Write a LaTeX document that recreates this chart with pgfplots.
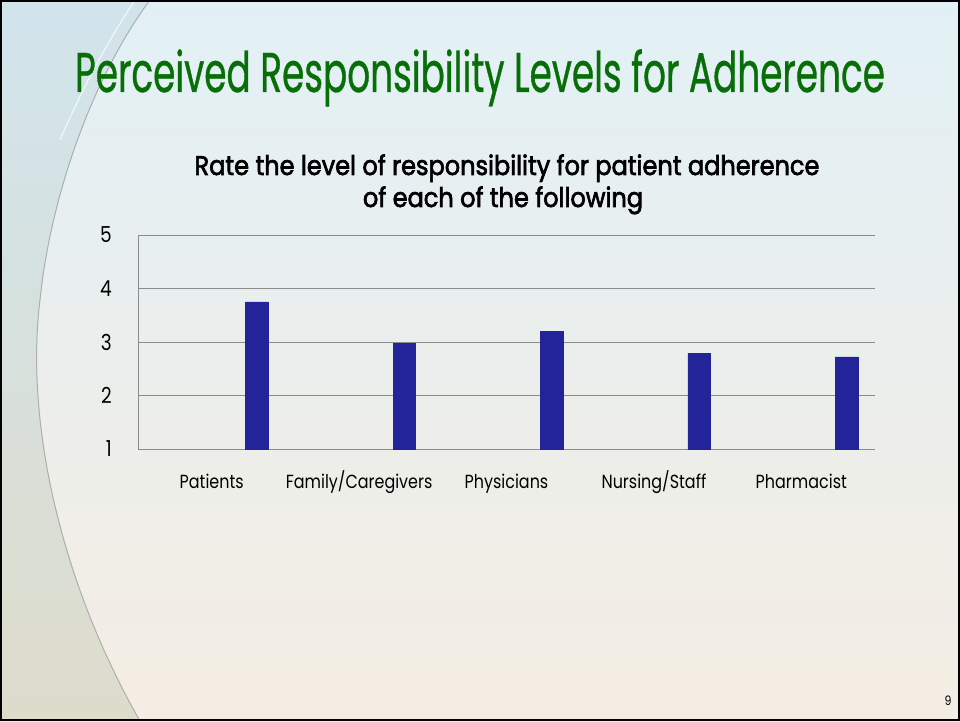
\documentclass[border=0pt]{standalone}
\usepackage{pgfplots}
\pgfplotsset{compat=1.18}
\usepackage{fontspec}
\setmainfont{Poppins}
\newfontfamily\titlefont[FakeStretch=0.64, FakeBold=0.6]{Poppins}
\newfontfamily\subfont[FakeStretch=0.89, FakeBold=2.4]{Poppins}
\newfontfamily\labfont[FakeStretch=0.84]{Poppins}

\definecolor{titlegreen}{RGB}{8,110,8}
\definecolor{barblue}{RGB}{36,36,154}
\definecolor{gridgray}{RGB}{140,140,140}
\definecolor{bgtop}{RGB}{226,240,245}
\definecolor{bgmid}{RGB}{238,243,240}
\definecolor{bgbot}{RGB}{244,237,227}
\definecolor{lefttop}{RGB}{205,226,234}
\definecolor{leftbot}{RGB}{216,216,198}

\begin{document}
\begin{tikzpicture}
\useasboundingbox (0pt,0pt) rectangle (960pt,721pt);
\begin{scope}[x=1pt,y=1pt]
% slide background
\shade[top color=bgtop, middle color=bgmid, bottom color=bgbot] (0,0) rectangle (960,721);
\shade[top color=lefttop, bottom color=leftbot, opacity=0.8] (0,0) -- (140,0) .. controls (60,140) and (25,300) .. (40,421)
  .. controls (50,520) and (90,640) .. (150,721) -- (0,721) -- cycle;
\draw[gridgray!70, line width=1pt] (140,0) .. controls (60,140) and (25,300) .. (40,421)
  .. controls (50,520) and (90,640) .. (150,721);
\draw[white, opacity=0.8, line width=1pt] (60,581) .. controls (90,650) and (115,690) .. (135,721);

% titles
\node[anchor=base, text=titlegreen, inner sep=0] at (480,629)
  {\titlefont\fontsize{56}{56}\selectfont Perceived Responsibility Levels for Adherence};
\node[anchor=base, inner sep=0] at (507,546)
  {\subfont\fontsize{27}{27}\selectfont Rate the level of responsibility for patient adherence};
\node[anchor=base, inner sep=0] at (503,514)
  {\subfont\fontsize{27}{27}\selectfont of each of the following};
\end{scope}

\begin{axis}[
    at={(138pt,272pt)}, anchor=south west,
    scale only axis, width=737pt, height=214pt,
    xmin=-0.5, xmax=4.5, ymin=1, ymax=5,
    ytick={1,2,3,4,5}, yticklabels={1,2,3,4,5},
    xtick={0,1,2,3,4},
    xticklabels={Patients,Family/Caregivers,Physicians,Nursing/Staff,Pharmacist},
    major tick length=0pt,
    ymajorgrids,
    grid style={gridgray, line width=1pt},
    axis x line*=bottom, axis y line*=left,
    axis line style={gridgray, line width=1pt, -},
    y tick label style={font=\labfont\fontsize{22}{22}\selectfont, anchor=east, inner sep=0pt, xshift=-26pt},
    x tick label style={font=\labfont\fontsize{19}{19}\selectfont, anchor=base, inner sep=0pt, yshift=-39pt},
]
% bars sit on the right side of each category
\addplot[ybar, bar width=0.153, fill=barblue, draw=barblue] coordinates {
    (0.307,3.75)
    (1.307,2.98)
    (2.307,3.20)
    (3.307,2.79)
    (4.307,2.72)
};
\end{axis}

\begin{scope}[x=1pt,y=1pt]
\node[anchor=base, inner sep=0] at (948,16) {\labfont\fontsize{13}{13}\selectfont 9};
\draw[black, line width=2pt] (1,1) rectangle (959,720);
\end{scope}
\end{tikzpicture}
\end{document}
